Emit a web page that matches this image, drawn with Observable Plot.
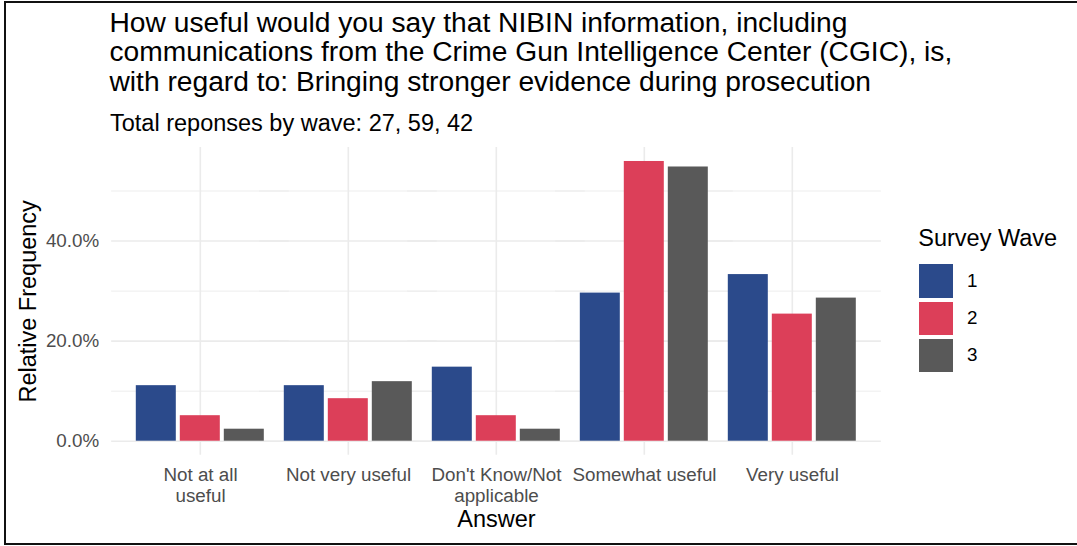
<!DOCTYPE html>
<html>
<head>
<meta charset="utf-8">
<script src="https://cdn.jsdelivr.net/npm/d3@7"></script>
<script src="https://cdn.jsdelivr.net/npm/@observablehq/plot@0.6"></script>
<style>
  html, body { margin: 0; padding: 0; background: #fff; }
  body { width: 1077px; height: 546px; position: relative; overflow: hidden;
         font-family: "Liberation Sans", Arial, sans-serif; }
  #frame { position: absolute; left: 4px; top: 1px; width: 1080px; height: 540px;
           border: 2.5px solid #111; box-sizing: content-box; }
  #title { position: absolute; left: 109.5px; top: 7.8px; font-size: 28.2px; line-height: 29.4px;
           color: #000; white-space: nowrap; }
  #subtitle { position: absolute; left: 110px; top: 111.8px; font-size: 23.5px; line-height: 23.5px;
              color: #000; white-space: nowrap; }
  #chart { position: absolute; left: 0; top: 140px; }
  #legend { position: absolute; left: 0; top: 0; }
  .lg-title { position: absolute; left: 918.3px; top: 227.4px; font-size: 23.5px; line-height: 23.5px;
              color: #000; white-space: nowrap; }
  .lg-key { position: absolute; left: 919px; width: 34px; height: 33.5px; }
  .lg-label { position: absolute; left: 967px; font-size: 18.8px; line-height: 18.8px; color: #000; }
  #chart svg [aria-label="y-axis label"] text,
  #chart svg [aria-label="fx-axis label"] text { font-size: 23.5px; fill: #000; }
</style>
</head>
<body>
<div id="frame"></div>
<div id="title"></div>
<div id="subtitle"></div>
<div id="chart"></div>
<div id="legend"></div>
<script>
// ---- data ----
const titleLines = [
  "How useful would you say that NIBIN information, including",
  "communications from the Crime Gun Intelligence Center (CGIC), is,",
  "with regard to: Bringing stronger evidence during prosecution"
];
const totals = [27, 59, 42];
const categories = ["Not at all useful", "Not very useful", "Don't Know/Not applicable", "Somewhat useful", "Very useful"];
const tickLabels = ["Not at all\nuseful", "Not very useful", "Don't Know/Not\napplicable", "Somewhat useful", "Very useful"];
const waves = ["1", "2", "3"];
// relative frequency (%) per answer, for each survey wave
const wave1 = [11.1, 11.1, 14.8, 29.6, 33.3];
const wave2 = [5.1, 8.5, 5.1, 55.9, 25.4];
const wave3 = [2.4, 11.9, 2.4, 54.8, 28.6];
const waveColors = ["#2B4A8B", "#DC3F59", "#595959"];
const yTicks = [0, 0.2, 0.4];
const yMinorTicks = [0.1, 0.3, 0.5];

// ---- build table ----
const series = [wave1, wave2, wave3];
const data = waves.flatMap((w, i) => categories.map((c, j) => ({category: c, wave: w, value: series[i][j] / 100})));
const ymax = d3.max(data, d => d.value);
const pad = 0.05 * ymax;

document.getElementById("title").innerHTML = titleLines.join("<br>");
document.getElementById("subtitle").textContent = "Total reponses by wave: " + totals.join(", ");

const outer = 14.85;
const plot = Plot.plot({
  width: 900,
  height: 405,
  marginLeft: 110.2,
  marginRight: 17.6,
  marginTop: 7,
  marginBottom: 90.3,
  style: {fontFamily: "'Liberation Sans', Arial, sans-serif", background: "transparent", overflow: "visible"},
  fx: {domain: categories, paddingInner: 0, paddingOuter: 0.1, label: null},
  x: {domain: waves, paddingInner: 0.1, paddingOuter: 0.2167, axis: null},
  y: {domain: [-pad, ymax + pad], axis: null},
  color: {domain: waves, range: waveColors},
  marks: [
    Plot.ruleY(yMinorTicks, {stroke: "#EBEBEB", strokeWidth: 0.9, insetLeft: -outer, insetRight: -outer}),
    Plot.ruleY(yTicks, {stroke: "#EBEBEB", strokeWidth: 1.6, insetLeft: -outer, insetRight: -outer}),
    Plot.ruleX(["2"], {stroke: "#EBEBEB", strokeWidth: 1.6}),
    Plot.barY(data, {fx: "category", x: "wave", y: "value", fill: "wave"}),
    Plot.axisY(yTicks, {
      anchor: "left", tickSize: 0, tickPadding: 12.5 + outer, tickFormat: d3.format(".1%"),
      fontSize: 18.8, fill: "#4D4D4D",
      label: "Relative Frequency", labelAnchor: "center", labelOffset: 92 + outer, labelArrow: "none"
    }),
    Plot.axisFx({
      anchor: "bottom", tickSize: 0, tickPadding: 10,
      tickFormat: d => tickLabels[categories.indexOf(d)],
      fontSize: 18.8, lineHeight: 1.15, fill: "#4D4D4D",
      label: "Answer", labelAnchor: "center", labelOffset: 72, labelArrow: "none"
    })
  ]
});
document.getElementById("chart").appendChild(plot);

// ---- legend ----
const legend = document.getElementById("legend");
const lt = document.createElement("div");
lt.className = "lg-title";
lt.textContent = "Survey Wave";
legend.appendChild(lt);
waves.forEach((w, i) => {
  const top = 264.3 + i * 37.3;
  const k = document.createElement("div");
  k.className = "lg-key";
  k.style.top = top + "px";
  k.style.background = waveColors[i];
  legend.appendChild(k);
  const l = document.createElement("div");
  l.className = "lg-label";
  l.style.top = (top + 33.5 / 2 - 9.4) + "px";
  l.textContent = w;
  legend.appendChild(l);
});
</script>
</body>
</html>
